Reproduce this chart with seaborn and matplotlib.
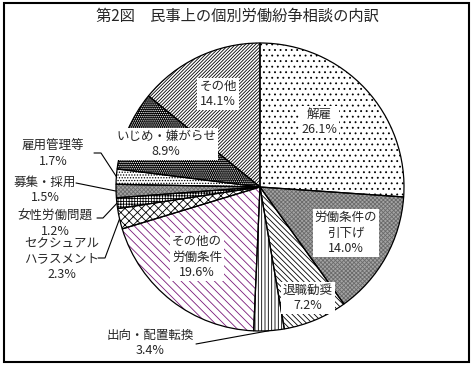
import numpy as np
import matplotlib
matplotlib.use("Agg")
import matplotlib.pyplot as plt
from matplotlib.patches import Rectangle
import seaborn as sns

# data, clockwise from 12 o'clock
labels = ["解雇", "労働条件の\n引下げ", "退職勧奨", "出向・配置転換", "その他の\n労働条件",
          "セクシュアル\nハラスメント", "女性労働問題", "募集・採用", "雇用管理等",
          "いじめ・嫌がらせ", "その他"]
shares = [26.1, 14.0, 7.2, 3.4, 19.6, 2.3, 1.2, 1.5, 1.7, 8.9, 14.1]

title = "第2図　民事上の個別労働紛争相談の内訳"

# fill / hatch styles per slice
faces = ["white", "#a4a4a4", "white", "white", "white", "white", "white", "#a4a4a4", "white", "black", "white"]
hatch_colors = ["black", "#6a6a6a", "black", "black", "#7a1a7a", "black", "black", "#6a6a6a", "black", "white", "black"]
hatches = ["...", "xxxxxxxx", "\\\\\\\\\\\\", "|||||", "\\\\\\\\", "xxxx", "++++++", "xxxxxxxx",
           "......", "........", "//////////"]

sns.set_theme(style="white")
plt.rcParams["font.family"] = ["Noto Sans CJK JP", "DejaVu Sans"]
plt.rcParams["hatch.linewidth"] = 0.6

W, H = 474, 368
CX, CY, R = 260, 187, 144


def px(x, y):
    # pixel (from top-left) -> data units of the pie
    return (x - CX) / R, (CY - y) / R


fig = plt.figure(figsize=(W / 100, H / 100), dpi=100)
ax = fig.add_axes([0, 0, 1, 1])

wedges, _ = ax.pie(shares, startangle=90, counterclock=False, colors=faces,
                   wedgeprops=dict(linewidth=0))
for w, h, hc in zip(wedges, hatches, hatch_colors):
    w.set_hatch(h)
    w.set_edgecolor(hc)

# outlines
ax.pie(shares, startangle=90, counterclock=False,
       wedgeprops=dict(fill=False, edgecolor="black", linewidth=0.9))

ax.set_xlim(-CX / R, (W - CX) / R)
ax.set_ylim(-(H - CY) / R, CY / R)
ax.set_aspect("auto")
ax.axis("off")


def anchor(i, r=1.0):
    w = wedges[i]
    t = np.deg2rad((w.theta1 + w.theta2) / 2)
    return r * np.cos(t), r * np.sin(t)


box = dict(facecolor="white", edgecolor="none", pad=1.5)

# (label index, text centre in px, boxed)
inside = [
    (0, (319, 122), True),
    (1, (346, 233), True),
    (2, (308, 298), True),
    (4, (197, 257), True),
    (9, (166, 144), True),
    (10, (218, 94), True),
]
for i, (x, y), boxed in inside:
    ax.text(*px(x, y), f"{labels[i]}\n{shares[i]:.1f}%", ha="center", va="center",
            fontsize=9, linespacing=1.25, bbox=box if boxed else None)

# outside labels with leader lines: (index, text centre, leader start points)
outside = [
    (8, (53, 154), [(94, 153), (101, 153)]),
    (7, (45, 190), [(76, 183)]),
    (6, (55, 224), [(97, 218), (103, 218)]),
    (5, (62, 259), [(98, 258), (105, 258)]),
    (3, (150, 343), [(196, 344)]),
]
for i, (x, y), pts in outside:
    ax.text(*px(x, y), f"{labels[i]}\n{shares[i]:.1f}%", ha="center", va="center",
            fontsize=9, linespacing=1.25)
    xs = [px(*p)[0] for p in pts] + [anchor(i)[0]]
    ys = [px(*p)[1] for p in pts] + [anchor(i)[1]]
    ax.plot(xs, ys, color="black", lw=0.8)

fig.text(237 / W, 1 - 16 / H, title, ha="center", va="center", fontsize=11)
fig.patches.append(Rectangle((4 / W, 6 / H), 465 / W, 359 / H, transform=fig.transFigure,
                             fill=False, edgecolor="black", linewidth=1.5))

fig.savefig("out.png", dpi=100)
